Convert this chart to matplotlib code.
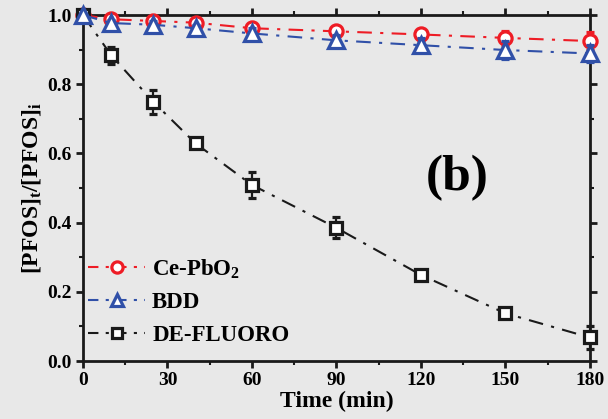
import matplotlib
matplotlib.use("Agg")
import matplotlib.pyplot as plt
from matplotlib.ticker import MultipleLocator, FormatStrFormatter
from matplotlib.lines import Line2D

plt.rcParams['font.family'] = ['Liberation Serif', 'DejaVu Serif']
plt.rcParams['font.weight'] = 'bold'
plt.rcParams['mathtext.fontset'] = 'custom'
plt.rcParams['mathtext.rm'] = 'Liberation Serif:bold'
plt.rcParams['mathtext.it'] = 'Liberation Serif:bold'
plt.rcParams['mathtext.bf'] = 'Liberation Serif:bold'

time = [0, 10, 25, 40, 60, 90, 120, 150, 180]
ce_pbo2 = [1.0, 0.988, 0.983, 0.978, 0.962, 0.953, 0.944, 0.934, 0.925]
ce_err = [0.0, 0.01, 0.01, 0.01, 0.012, 0.012, 0.015, 0.02, 0.025]
bdd = [1.0, 0.977, 0.972, 0.962, 0.947, 0.927, 0.913, 0.899, 0.889]
bdd_err = [0.0, 0.01, 0.01, 0.01, 0.015, 0.015, 0.02, 0.025, 0.025]
defluoro = [1.0, 0.884, 0.749, 0.629, 0.509, 0.385, 0.249, 0.138, 0.068]
de_err = [0.0, 0.024, 0.034, 0.012, 0.038, 0.03, 0.012, 0.012, 0.033]

labels = ['Ce-PbO$_2$', 'BDD', 'DE-FLUORO']
colors = ['#ee1c25', '#3050a8', '#1a1a1a']
markers = ['o', '^', 's']
bg = '#e8e8e8'

fig = plt.figure(figsize=(6.08, 4.19), dpi=100, facecolor=bg)
ax = fig.add_axes([0.1365, 0.1384, 0.8335, 0.8256], facecolor=bg)

dash = (0, (7, 4, 1.5, 4))
series = [(ce_pbo2, ce_err, 9.5, 3), (bdd, bdd_err, 11, 4), (defluoro, de_err, 8, 3)]
for (vals, err, ms, z), c, m in zip(series, colors, markers):
    _, caps, bars = ax.errorbar(time, vals, yerr=err, color=c, ls=dash, lw=1.5,
                                marker=m, ms=ms, mfc='white', mec=c, mew=2.3,
                                capsize=3, elinewidth=1.6, capthick=1.6, zorder=z)
    for b in bars:
        b.set_clip_on(False)
for l in ax.lines:
    l.set_clip_on(False)

ax.set_xlim(0, 180)
ax.set_ylim(0, 1.0)
ax.xaxis.set_major_locator(MultipleLocator(30))
ax.xaxis.set_minor_locator(MultipleLocator(15))
ax.yaxis.set_major_locator(MultipleLocator(0.2))
ax.yaxis.set_minor_locator(MultipleLocator(0.1))
ax.yaxis.set_major_formatter(FormatStrFormatter('%.1f'))
for s in ax.spines.values():
    s.set_linewidth(2)
    s.set_color('#1a1a1a')
ax.tick_params(which='major', direction='out', length=5, width=2, labelsize=14,
               top=True, right=True, color='#1a1a1a', pad=3)
ax.tick_params(which='minor', direction='out', length=3, width=1.5,
               top=True, right=True, color='#1a1a1a')
for lab in ax.get_xticklabels() + ax.get_yticklabels():
    lab.set_fontweight('bold')

ax.set_xlabel('Time (min)', fontsize=17, fontweight='bold', labelpad=1)
ax.set_ylabel('[PFOS]$_\\mathrm{t}$/[PFOS]$_\\mathrm{i}$', fontsize=17,
              fontweight='bold', labelpad=3)

ax.text(132.8, 0.529, '(b)', fontsize=37, fontweight='bold', ha='center', va='center')

leg_dash = (0, (5, 3.5, 1.5, 3.5))
handles = [Line2D([], [], color=c, ls=leg_dash, lw=1.5, marker=m, ms=ms * 0.85,
                  mfc='white', mec=c, mew=2.3)
           for c, m, ms in zip(colors, markers, [9.5, 11, 8])]
leg = ax.legend(handles, labels, loc='center left',
                bbox_to_anchor=(5 / 507, 0.172), frameon=False,
                borderpad=0, borderaxespad=0,
                handlelength=2.5, labelspacing=0.5, handletextpad=0.3,
                prop={'weight': 'bold', 'size': 16.5})

fig.savefig('out.png', dpi=100, facecolor=bg)
